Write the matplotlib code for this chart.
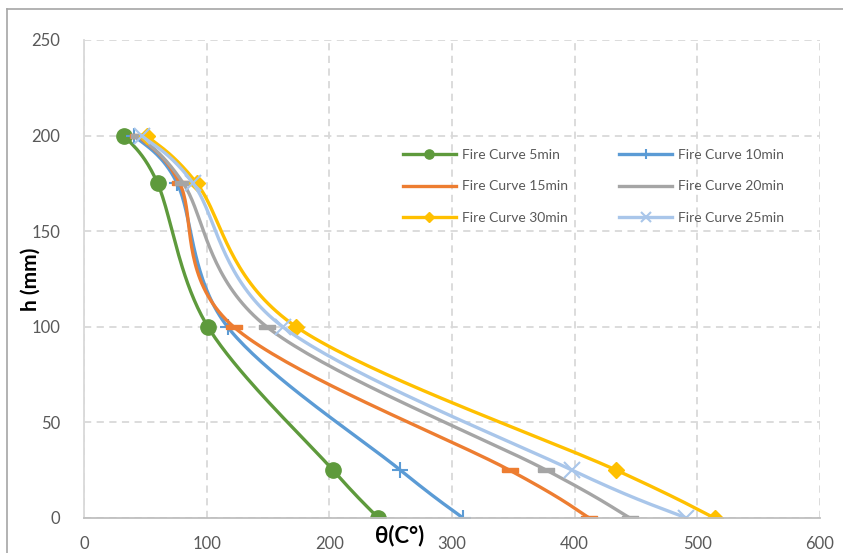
import numpy as np
import matplotlib
matplotlib.use("Agg")
import matplotlib.pyplot as plt
from matplotlib.lines import Line2D

# heights through the section (mm)
h = [200, 175, 100, 25, 0]

# temperature at each height for each fire duration
theta_5 = [33, 60, 101, 203, 240]
theta_10 = [41, 76, 117, 258, 309]
theta_15 = [44, 78, 122, 347, 412]
theta_20 = [45, 81, 149, 377, 445]
theta_30 = [51, 92, 173, 434, 514]
theta_25 = [47, 89, 162, 398, 491]

labels = ["Fire Curve 5min", "Fire Curve 10min", "Fire Curve 15min",
          "Fire Curve 20min", "Fire Curve 30min", "Fire Curve 25min"]

x_ticks = [0, 100, 200, 300, 400, 500, 600]
y_ticks = [0, 50, 100, 150, 200, 250]

plt.rcParams['font.family'] = ['Lato', 'DejaVu Sans']

W, H = 843, 553
fig = plt.figure(figsize=(W / 100, H / 100), dpi=100)
ax = fig.add_axes([84 / W, 1 - 518 / H, (820 - 84) / W, (518 - 40) / H])
ax.set_xlim(0, 600)
ax.set_ylim(0, 250)

# pixels per data unit, so the smoothing works in screen space
sx = (820 - 84) / 600
sy = (518 - 40) / 250


def smooth(xs, ys, n=40):
    """Bezier smoothing through every point (Catmull-Rom style)."""
    p = np.column_stack([np.asarray(xs, float) * sx, np.asarray(ys, float) * sy])
    pts = np.vstack([p[0], p, p[-1]])
    out = []
    t = np.linspace(0, 1, n)[:, None]
    for i in range(1, len(pts) - 2):
        p0, p1, p2, p3 = pts[i - 1], pts[i], pts[i + 1], pts[i + 2]
        b1 = p1 + (p2 - p0) / 6
        b2 = p2 - (p3 - p1) / 6
        seg = ((1 - t) ** 3 * p1 + 3 * (1 - t) ** 2 * t * b1
               + 3 * (1 - t) * t ** 2 * b2 + t ** 3 * p2)
        out.append(seg if i == 1 else seg[1:])
    out = np.vstack(out)
    return out[:, 0] / sx, out[:, 1] / sy


dash = [(-1, -0.28), (1, -0.28), (1, 0.28), (-1, 0.28), (-1, -0.28)]

series = [
    (theta_5, '#5e9a3c', dict(marker='o', ms=11)),
    (theta_10, '#5b9bd5', dict(marker='+', ms=12, mew=1.5)),
    (theta_15, '#ed7d31', dict(marker=dash, ms=11)),
    (theta_20, '#a5a5a5', dict(marker=dash, ms=11)),
    (theta_30, '#ffc000', dict(marker='D', ms=8)),
    (theta_25, '#a9c6ea', dict(marker='x', ms=11, mew=1.5)),
]

handles = []
for (vals, col, mk), lab in zip(series, labels):
    xs, ys = smooth(vals, h)
    ax.plot(xs, ys, color=col, lw=2.4, solid_capstyle='butt')
    ax.plot(vals, h, linestyle='none', color=col, mec=col, mfc=col, **mk)
    # legend sample: small marker, dash markers disappear into the line
    leg_mk = {k: (v * 0.6 if k == 'ms' else v) for k, v in mk.items()}
    if mk['marker'] is dash:
        leg_mk = {}
    handles.append(Line2D([], [], color=col, lw=2.4, mec=col, mfc=col, **leg_mk))

# grid and axes styling
ax.set_xticks(x_ticks)
ax.set_yticks(y_ticks)
ax.grid(True, color='#d9d9d9', linestyle=(0, (4, 3)), lw=1.3)
ax.set_axisbelow(True)
for s in ['top', 'right']:
    ax.spines[s].set_visible(False)
ax.spines['left'].set_color('#d9d9d9')
ax.spines['left'].set_linewidth(1.3)
ax.spines['bottom'].set_color('#bfbfbf')
ax.spines['bottom'].set_linewidth(1.3)
ax.tick_params(length=0, labelsize=12, colors='#595959', pad=17)
ax.tick_params(axis='x', pad=13)

ax.set_ylabel('h (mm)', fontsize=15, fontweight='bold', color='black')
ax.yaxis.set_label_coords(-(84 - 41) / (820 - 84), (518 - 279) / (518 - 40))
fig.text(400 / W, 1 - 536 / H, 'θ(C°)', fontsize=16, fontweight='bold',
         ha='center', va='center')

# legend: two columns, no frame
order = [0, 2, 4, 1, 3, 5]
ax.legend([handles[i] for i in order], [labels[i] for i in order],
          ncol=2, frameon=False, fontsize=10, labelcolor='#595959',
          loc='upper left', bbox_to_anchor=(403 / W, 1 - 149 / H),
          bbox_transform=fig.transFigure, borderpad=0, borderaxespad=0,
          handlelength=3.8, handletextpad=0.45, columnspacing=3.7,
          labelspacing=1.4)

# chart area border
fig.add_artist(Line2D([7 / W, 7 / W], [0, 1 - 9 / H], color='#a6a6a6', lw=1.2))
fig.add_artist(Line2D([7 / W, 1], [1 - 9 / H, 1 - 9 / H], color='#a6a6a6', lw=1.2))

fig.savefig('out.png', dpi=100)
